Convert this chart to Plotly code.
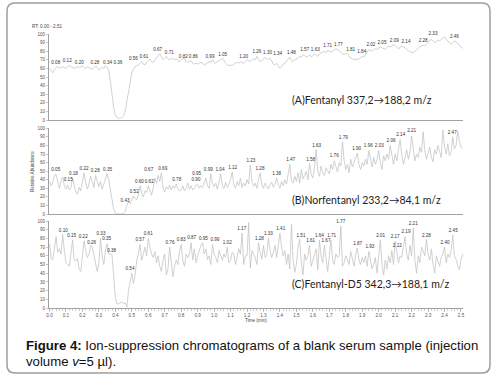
import plotly.graph_objects as go

# ---------------- data ----------------
t_step = 0.01  # sampling interval of the chromatograms (min)

fentanyl_a = [
    60, 57, 55, 58, 61, 62, 60, 61, 62, 61,
    60, 62, 64, 62, 61, 60, 61, 62, 61, 62,
    63, 61, 60, 62, 61, 60, 59, 61, 63, 61,
    58, 60, 61, 60, 63, 61, 58, 45, 28, 14,
    6, 3, 2, 2, 3, 5, 10, 22, 36, 47,
    55, 59, 62, 63, 64, 66, 68, 65, 64, 67,
    69, 71, 68, 67, 70, 72, 74, 77, 73, 70,
    72, 74, 71, 70, 71, 72, 70, 71, 69, 68,
    70, 71, 72, 68, 67, 68, 69, 66, 65, 66,
    65, 66, 67, 66, 64, 65, 67, 68, 67, 70,
    67, 66, 68, 69, 70, 72, 68, 66, 64, 63,
    64, 63, 65, 66, 67, 66, 68, 67, 66, 68,
    70, 69, 68, 70, 71, 70, 74, 70, 68, 69,
    71, 73, 71, 70, 72, 68, 65, 64, 66, 63,
    60, 62, 65, 66, 68, 70, 73, 69, 68, 70,
    71, 72, 74, 73, 76, 75, 73, 74, 76, 73,
    75, 77, 76, 74, 77, 78, 79, 80, 78, 81,
    80, 79, 80, 82, 83, 82, 80, 78, 77, 76,
    78, 77, 74, 72, 71, 70, 71, 70, 71, 73,
    74, 73, 76, 79, 82, 81, 80, 82, 83, 82,
    84, 85, 84, 83, 82, 84, 86, 85, 86, 88,
    86, 84, 83, 84, 86, 85, 84, 82, 80, 79,
    79, 78, 80, 82, 84, 85, 86, 87, 86, 88,
    90, 92, 94, 92, 90, 91, 93, 92, 94, 96,
    97, 94, 92, 90, 88, 90, 92, 91, 89, 88,
    85, 83,
]

norfentanyl_b = [
    38, 33, 37, 45, 46, 36, 30, 38, 43, 33,
    29, 34, 28, 31, 42, 33, 25, 23, 31, 27,
    39, 48, 36, 29, 35, 44, 38, 31, 45, 37,
    32, 38, 29, 35, 41, 47, 40, 28, 14, 5,
    1, 0, 0, 0, 0, 1, 3, 10, 14, 12,
    16, 21, 18, 17, 22, 33, 24, 20, 27, 25,
    33, 28, 22, 30, 42, 36, 45, 38, 48, 30,
    26, 32, 29, 34, 28, 33, 30, 35, 29, 27,
    28, 33, 27, 30, 36, 29, 33, 28, 30, 34,
    34, 30, 33, 31, 36, 42, 33, 30, 47, 36,
    32, 36, 29, 40, 47, 33, 30, 37, 31, 35,
    40, 49, 34, 30, 38, 33, 42, 31, 36, 33,
    40, 35, 57, 38, 32, 36, 30, 40, 48, 34,
    30, 36, 33, 29, 34, 37, 31, 35, 42, 34,
    30, 38, 33, 40, 35, 45, 58, 39, 36, 44,
    38, 48, 36, 52, 41, 45, 50, 40, 59, 46,
    42, 55, 75, 50, 44, 56, 48, 45, 54, 50,
    47, 58, 52, 62, 55, 49, 60, 56, 84, 62,
    52, 58, 48, 64, 55, 60, 66, 71, 58, 52,
    60, 56, 64, 58, 74, 62, 55, 66, 58, 64,
    74, 60, 52, 68, 62, 70, 64, 80, 66, 58,
    70, 62, 75, 87, 70, 58, 66, 75, 64, 72,
    91, 74, 62, 70, 66, 78, 72, 96, 74, 64,
    72, 78, 66, 61, 75, 70, 80, 74, 66, 98,
    78, 70, 82, 68, 72, 90, 76, 80, 97, 85,
    78, 76,
]

fentanyl_d5_c = [
    74, 57, 55, 72, 82, 64, 68, 62, 85, 66,
    52, 50, 48, 62, 78, 55, 54, 57, 45, 42,
    60, 77, 66, 58, 62, 72, 70, 60, 48, 42,
    52, 80, 60, 50, 66, 74, 62, 62, 61, 35,
    12, 5, 5, 6, 7, 5, 6, 1, 20, 30,
    40, 28, 38, 55, 62, 73, 55, 62, 70, 60,
    80, 70, 62, 58, 65, 52, 60, 48, 42, 55,
    62, 38, 45, 70, 50, 36, 48, 55, 50, 65,
    73, 55, 48, 62, 58, 62, 75, 55, 68, 52,
    60, 66, 72, 75, 62, 68, 56, 60, 50, 73,
    62, 58, 52, 66, 60, 55, 62, 58, 70, 52,
    55, 64, 62, 50, 58, 68, 62, 86, 50, 60,
    60, 98, 46, 66, 62, 58, 50, 75, 64, 56,
    72, 58, 62, 80, 66, 58, 64, 72, 58, 70,
    86, 70, 60, 66, 50, 62, 45, 96, 55, 41,
    50, 70, 79, 52, 38, 62, 55, 60, 72, 48,
    55, 62, 68, 44, 78, 60, 52, 72, 58, 42,
    60, 78, 55, 50, 62, 58, 60, 94, 48, 52,
    60, 55, 50, 65, 58, 48, 62, 69, 55, 50,
    58, 52, 60, 48, 65, 55, 45, 50, 58, 40,
    62, 78, 50, 38, 55, 45, 60, 52, 66, 50,
    77, 66, 52, 60, 58, 70, 82, 62, 55, 72,
    60, 92, 55, 40, 60, 52, 70, 66, 60, 79,
    62, 55, 68, 50, 40, 60, 55, 48, 58, 62,
    70, 52, 62, 58, 66, 84, 60, 56, 48, 44,
    55, 62,
]

# peak (retention-time) labels: text, time position, abundance position
a_label_text = ["0.08", "0.12", "0.20", "0.28", "0.34", "0.36", "0.56", "0.61", "0.67", "0.71",
                "0.82", "0.86", "0.99", "1.05", "1.20", "1.26", "1.30", "1.34", "1.48", "1.57",
                "1.63", "1.71", "1.77", "1.81", "1.84", "2.02", "2.05", "2.09", "2.14", "2.28",
                "2.33", "2.40", "2.46"]
a_label_t = [0.038, 0.108, 0.181, 0.276, 0.353, 0.416, 0.51, 0.574, 0.657, 0.728,
             0.813, 0.874, 0.975, 1.052, 1.18, 1.26, 1.325, 1.386, 1.47, 1.55,
             1.615, 1.69, 1.755, 1.83, 1.897, 1.953, 2.02, 2.095, 2.166, 2.27,
             2.33, 2.40, 2.46]
a_label_v = [66, 69, 67, 67, 67, 66, 71, 74, 81, 78,
             74, 73, 74, 76, 74, 79, 78, 77, 78, 81,
             82, 86, 87, 82, 79, 87, 90, 92, 91, 92,
             100, 103, 97]

b_label_text = ["0.05", "0.15", "0.18", "0.22", "0.28", "0.35", "0.43", "0.52", "0.60", "0.62",
                "0.67", "0.69", "0.78", "0.90", "0.95", "0.99", "1.04", "1.12", "1.23", "1.28",
                "1.38", "1.47", "1.58", "1.63", "1.76", "1.79", "1.90", "1.96", "2.03", "2.06",
                "2.14", "2.21", "2.27", "2.39", "2.47", "2.49"]
b_label_t = [0.038, 0.114, 0.145, 0.21, 0.278, 0.353, 0.459, 0.515, 0.546, 0.606,
             0.603, 0.688, 0.773, 0.89, 0.894, 0.965, 1.036, 1.113, 1.224, 1.279,
             1.38, 1.465, 1.587, 1.623, 1.73, 1.785, 1.866, 1.937, 2.004, 2.075,
             2.134, 2.20, 2.267, 2.397, 2.447, 2.478]
b_label_v = [51, 39.5, 47, 53, 50, 52, 15, 26, 37.6, 37.6,
             51, 53, 39.5, 39.5, 47, 52, 52, 54, 61.6, 53,
             47, 63, 63.6, 80, 67.4, 89, 76.4, 79.4, 79.4, 85,
             92, 96.5, 100.8, 103.5, 95, 102]

c_label_text = ["0.10", "0.15", "0.22", "0.26", "0.33", "0.35", "0.38", "0.54", "0.57", "0.61",
                "0.76", "0.83", "0.87", "0.95", "0.99", "1.02", "1.17", "1.22", "1.28", "1.33",
                "1.41", "1.46", "1.51", "1.61", "1.64", "1.67", "1.71", "1.77", "1.87", "1.93",
                "2.01", "2.17", "2.12", "2.19", "2.21", "2.28", "2.40", "2.45"]
c_label_t = [0.084, 0.135, 0.205, 0.256, 0.313, 0.347, 0.378, 0.489, 0.55, 0.60,
             0.732, 0.80, 0.864, 0.935, 1.005, 1.08, 1.168, 1.214, 1.275, 1.33,
             1.405, 1.477, 1.528, 1.587, 1.64, 1.68, 1.714, 1.77, 1.872, 1.947,
             2.012, 2.10, 2.113, 2.166, 2.21, 2.29, 2.403, 2.453]
c_label_v = [89, 83, 81.6, 75, 85, 79, 66, 44.5, 78.5, 85,
             75, 78, 80.5, 79.7, 78, 75, 91, 103.8, 79.7, 85,
             91, 100.8, 83.5, 76.7, 82.8, 76.7, 82.8, 99.6, 74, 70,
             82.8, 81.6, 71, 87, 97, 83.5, 75, 88.5]

x_tick_vals = [i / 10 for i in range(26)]
x_tick_text = ["%.1f" % v for v in x_tick_vals]
y_tick_vals = list(range(0, 101, 10))

panel_titles = ["(A)Fentanyl 337,2\u2192188,2 m/z",
                "(B)Norfentanyl 233,2\u219284,1 m/z",
                "(C)Fentanyl-D5 342,3\u2192188,1 m/z"]

# ---------------- figure ----------------
W, H = 495, 378
ML, MR, MT, MB = 49, 32, 34, 70
PW, PH = W - ML - MR, H - MT - MB


def px(x):
    return (x - ML) / PW


def py(y):
    return (H - MB - y) / PH


def times(vals):
    return [round(i * t_step, 2) for i in range(len(vals))]


TRACE = "#c2c2c2"
AXIS = "#a0a0a0"
TICKF = dict(family="Liberation Sans, Arial", size=4.6, color="#555555")
LABF = dict(family="Liberation Sans, Arial", size=4.6, color="#333333")

fig = go.Figure()

panels = [
    (fentanyl_a, a_label_text, a_label_t, a_label_v, "x3", "y3"),
    (norfentanyl_b, b_label_text, b_label_t, b_label_v, "x2", "y2"),
    (fentanyl_d5_c, c_label_text, c_label_t, c_label_v, "x", "y"),
]
for vals, lt, ltt, lv, xa, ya in panels:
    fig.add_trace(go.Scatter(x=times(vals), y=vals, mode="lines",
                             line=dict(color=TRACE, width=0.75),
                             xaxis=xa, yaxis=ya, hoverinfo="skip", showlegend=False))
    fig.add_trace(go.Scatter(x=ltt, y=lv, text=lt, mode="text",
                             textposition="middle center", textfont=LABF,
                             cliponaxis=False, xaxis=xa, yaxis=ya,
                             hoverinfo="skip", showlegend=False))

xr = [-0.003, (W - MR - ML) / 164.6 - 0.003]

common_x = dict(range=xr, showline=True, linecolor=AXIS, linewidth=1,
                showgrid=False, zeroline=False, automargin=False)
common_y = dict(range=[0, 100], showline=True, linecolor=AXIS, linewidth=1,
                showgrid=False, zeroline=False, tickvals=y_tick_vals,
                ticks="outside", ticklen=2, tickcolor=AXIS, tickwidth=0.6,
                tickfont=TICKF, automargin=False)

domains = {"y3": [py(120), py(34)], "y2": [py(214), py(128.3)], "y": [0, py(221)]}

fig.update_layout(
    width=W, height=H,
    margin=dict(l=ML, r=MR, t=MT, b=MB, autoexpand=False),
    paper_bgcolor="white", plot_bgcolor="white",
    xaxis=dict(**common_x, anchor="y", tickvals=x_tick_vals, ticktext=x_tick_text,
               ticks="outside", ticklen=2.5, tickcolor=AXIS, tickwidth=0.6,
               tickfont=TICKF,
               minor=dict(dtick=0.02, ticks="outside", ticklen=1.5,
                          tickcolor=AXIS, tickwidth=0.5)),
    xaxis2=dict(**common_x, anchor="y2", matches="x", showticklabels=False, ticks=""),
    xaxis3=dict(**common_x, anchor="y3", matches="x", showticklabels=False, ticks=""),
    yaxis=dict(**common_y, domain=domains["y"], anchor="x"),
    yaxis2=dict(**common_y, domain=domains["y2"], anchor="x2"),
    yaxis3=dict(**common_y, domain=domains["y3"], anchor="x3"),
)

small = dict(family="Liberation Sans, Arial", size=4.6, color="#444444")
ann = [
    dict(text="RT: 0.00 - 2.51", x=px(30), y=py(26), xanchor="left", yanchor="middle", font=small),
    dict(text="Relative Abundance", x=px(33), y=py(172), textangle=-90, xanchor="center",
         yanchor="middle", font=small),
    dict(text="Time (min)", x=px(256), y=py(320), xanchor="center", yanchor="middle", font=small),
]
title_y = [100, 200, 284]
for txt, ty in zip(panel_titles, title_y):
    ann.append(dict(text=txt, x=px(290), y=py(ty), xanchor="left", yanchor="middle",
                    font=dict(family="Lato, Open Sans", size=10.5, color="#222222")))
cap = dict(family="Liberation Sans, Arial", size=13.2, color="#111111")
ann.append(dict(text="<b>Figure 4:</b> Ion-suppression chromatograms of a blank serum sample (injection",
                x=px(24), y=py(345), xanchor="left", yanchor="middle", font=cap))
ann.append(dict(text="volume <i>v</i>=5 \u00b5l).", x=px(24), y=py(361), xanchor="left",
                yanchor="middle", font=cap))
for a in ann:
    a.update(xref="paper", yref="paper", showarrow=False)
fig.update_layout(annotations=ann)

# rounded outer frame
x0, x1 = px(7), px(490)
yt, yb = py(3), py(373)
rx, ry = 8 / PW, 8 / PH
path = (f"M {x0+rx},{yt} L {x1-rx},{yt} Q {x1},{yt} {x1},{yt-ry} "
        f"L {x1},{yb+ry} Q {x1},{yb} {x1-rx},{yb} L {x0+rx},{yb} "
        f"Q {x0},{yb} {x0},{yb+ry} L {x0},{yt-ry} Q {x0},{yt} {x0+rx},{yt} Z")
fig.add_shape(type="path", path=path, xref="paper", yref="paper",
              line=dict(color="#9e9e9e", width=1.5), layer="below")

fig.write_html("out.html", config={"displayModeBar": False, "staticPlot": True},
               post_script="document.body.style.margin='0';document.body.style.overflow='hidden';")
